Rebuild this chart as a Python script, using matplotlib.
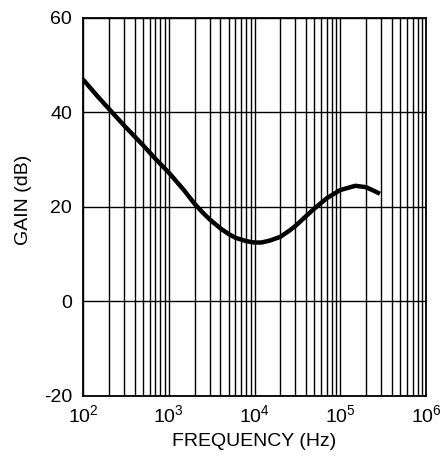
import matplotlib
matplotlib.use("Agg")
import matplotlib.pyplot as plt
from matplotlib.ticker import LogLocator, NullFormatter

plt.rcParams['font.family'] = ['Liberation Sans', 'DejaVu Sans']
plt.rcParams['mathtext.fontset'] = 'custom'
plt.rcParams['mathtext.rm'] = 'Liberation Sans'
plt.rcParams['mathtext.it'] = 'Liberation Sans'
plt.rcParams['axes.unicode_minus'] = False

# Data
freq_hz = [100, 150, 200, 300, 500, 700, 1000, 1500, 2000, 2500, 3000, 4000,
           5000, 6000, 8000, 10000, 12000, 15000, 20000, 25000, 30000, 40000,
           50000, 70000, 100000, 150000, 200000, 250000, 290000]
gain_db = [46.9, 43.2, 40.7, 37.2, 33.0, 30.1, 27.2, 23.5, 20.6, 18.7, 17.3,
           15.4, 14.2, 13.4, 12.7, 12.4, 12.4, 12.8, 13.6, 14.8, 15.9, 18.0,
           19.6, 21.8, 23.5, 24.4, 24.1, 23.3, 22.7]

x_ticks = [1e2, 1e3, 1e4, 1e5, 1e6]
x_tick_labels = [r'$\mathregular{10^{2}}$', r'$\mathregular{10^{3}}$',
                 r'$\mathregular{10^{4}}$', r'$\mathregular{10^{5}}$',
                 r'$\mathregular{10^{6}}$']
y_ticks = [-20, 0, 20, 40, 60]

fig = plt.figure(figsize=(4.42, 4.61), dpi=100)
ax = fig.add_axes([83/442, 1 - 395.7/461, (426 - 83)/442, (395.7 - 17.5)/461])

ax.plot(freq_hz, gain_db, color='black', linewidth=3.2,
        solid_joinstyle='round', solid_capstyle='butt', zorder=3)

ax.set_xscale('log')
ax.set_xlim(1e2, 1e6)
ax.set_ylim(-20, 60)
ax.set_xticks(x_ticks)
ax.set_xticklabels(x_tick_labels)
ax.xaxis.set_minor_locator(LogLocator(base=10, subs=range(2, 10)))
ax.xaxis.set_minor_formatter(NullFormatter())
ax.set_yticks(y_ticks)

ax.grid(True, which='major', axis='both', color='black', linewidth=1.0)
ax.grid(True, which='minor', axis='x', color='black', linewidth=1.0)

for s in ax.spines.values():
    s.set_linewidth(1.3)
    s.set_color('black')

ax.tick_params(axis='both', which='both', length=0, labelsize=14, colors='black')
ax.tick_params(axis='y', pad=8)
ax.tick_params(axis='x', pad=6)

ax.set_xlabel('FREQUENCY (Hz)', fontsize=14, labelpad=5)
ax.set_ylabel('GAIN (dB)', fontsize=14)
ax.yaxis.set_label_coords(-(83 - 32) / 343, (395.7 - 200) / 378.2)

fig.savefig('out.png', dpi=100)
